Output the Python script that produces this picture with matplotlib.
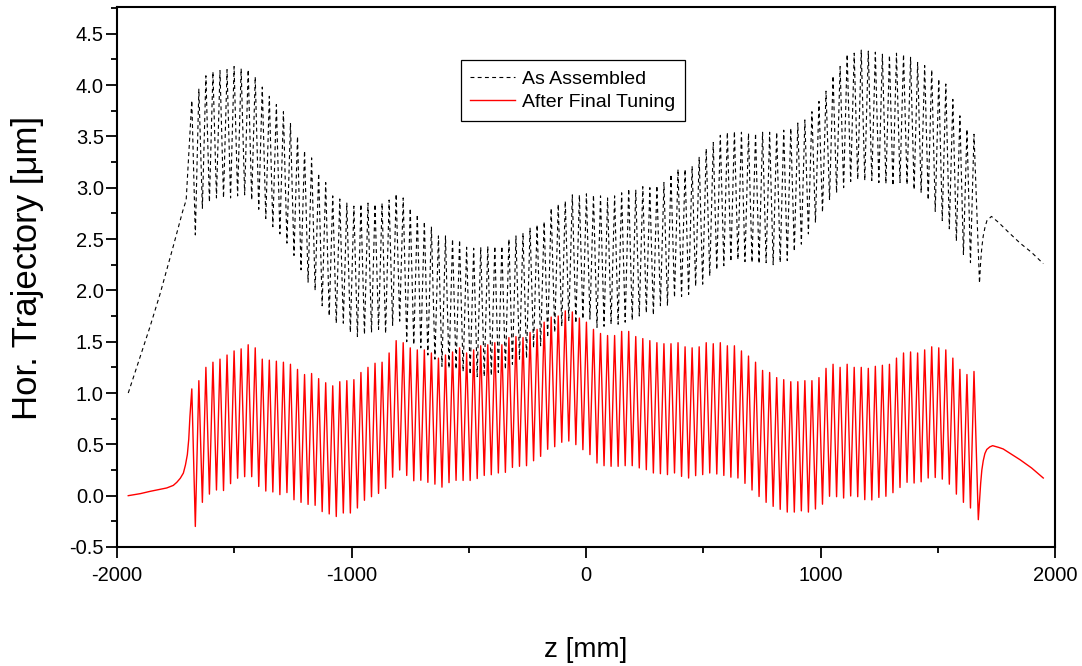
import numpy as np
import matplotlib
matplotlib.use("Agg")
import matplotlib.pyplot as plt
from matplotlib.ticker import MultipleLocator, FormatStrFormatter

plt.rcParams['font.family'] = ['Liberation Sans', 'DejaVu Sans']
plt.rcParams['axes.unicode_minus'] = False

# ---------------- data ----------------
# undulator oscillation: peak positions (mm) and period
first_peak_z = -1681.0
period_z = 30.05

# "After Final Tuning" (red): value at each peak and each trough
red_peaks = [1.04, 1.12, 1.25, 1.30, 1.33, 1.37, 1.41, 1.43, 1.47, 1.44, 1.33, 1.32, 1.31, 1.30, 1.28, 1.23, 1.18, 1.19, 1.14, 1.10, 1.07,
             1.11, 1.12, 1.13, 1.20, 1.25, 1.29, 1.30, 1.39, 1.51, 1.49, 1.44, 1.42, 1.42, 1.39, 1.34, 1.37, 1.40, 1.44, 1.39, 1.42, 1.46, 1.47,
             1.49, 1.47, 1.54, 1.55, 1.54, 1.59, 1.62, 1.69, 1.74, 1.75, 1.80, 1.79, 1.73, 1.69, 1.62, 1.58, 1.56, 1.56, 1.60, 1.60, 1.55, 1.53,
             1.51, 1.49, 1.48, 1.48, 1.49, 1.45, 1.44, 1.45, 1.49, 1.48, 1.49, 1.46, 1.46, 1.41, 1.36, 1.30, 1.22, 1.20, 1.15, 1.13, 1.11, 1.11,
             1.12, 1.12, 1.15, 1.24, 1.28, 1.25, 1.28, 1.25, 1.25, 1.24, 1.26, 1.27, 1.28, 1.34, 1.39, 1.40, 1.39, 1.42, 1.45, 1.44, 1.42, 1.34,
             1.23, 1.18, 1.21]
red_troughs = [-0.30, -0.065, 0.015, 0.055, 0.05, 0.117, 0.17, 0.185, 0.185, 0.09, 0.045, 0.036, 0.01, 0.03, -0.04, -0.065, -0.085, -0.094, -0.155, -0.178, -0.203,
               -0.169, -0.169, -0.12, -0.045, -0.01, 0.022, 0.07, 0.18, 0.25, 0.197, 0.145, 0.15, 0.13, 0.112, 0.083, 0.127, 0.149, 0.148, 0.148, 0.167, 0.197, 0.204,
               0.221, 0.227, 0.275, 0.286, 0.292, 0.34, 0.383, 0.452, 0.477, 0.52, 0.532, 0.497, 0.448, 0.40, 0.318, 0.292, 0.286, 0.286, 0.292, 0.292, 0.27, 0.253,
               0.221, 0.214, 0.205, 0.221, 0.188, 0.172, 0.195, 0.205, 0.221, 0.211, 0.197, 0.18, 0.172, 0.12, 0.055, -0.008, -0.065, -0.104, -0.133, -0.16, -0.16, -0.148,
               -0.16, -0.13, -0.083, -0.006, -0.01, -0.023, -0.003, -0.01, -0.039, -0.042, -0.017, -0.006, 0.029, 0.08, 0.13, 0.123, 0.135, 0.172, 0.177, 0.161, 0.112,
               0.015, -0.065, -0.12]
red_entry_z = [-1952, -1900, -1859, -1820, -1788, -1760, -1745, -1730, -1717, -1708, -1700, -1694, -1689]
red_entry_y = [0.0, 0.02, 0.042, 0.06, 0.075, 0.10, 0.13, 0.17, 0.22, 0.30, 0.40, 0.55, 0.77]
red_exit_z = [1673, 1678, 1683, 1688, 1694, 1701, 1709, 1722, 1734, 1760, 1779, 1851, 1900, 1950]
red_exit_y = [-0.234, -0.05, 0.12, 0.25, 0.34, 0.41, 0.45, 0.475, 0.487, 0.47, 0.455, 0.35, 0.27, 0.172]

# "As Assembled" (black dashed)
black_peaks = [3.85, 3.96, 4.09, 4.13, 4.14, 4.15, 4.18, 4.16, 4.15, 4.08, 3.98, 3.89, 3.81, 3.74, 3.63, 3.50, 3.36, 3.29, 3.14, 3.05, 2.92,
               2.89, 2.85, 2.82, 2.84, 2.85, 2.84, 2.85, 2.88, 2.94, 2.90, 2.80, 2.74, 2.67, 2.62, 2.53, 2.53, 2.50, 2.49, 2.42, 2.41, 2.42, 2.43,
               2.43, 2.43, 2.50, 2.53, 2.56, 2.61, 2.64, 2.67, 2.80, 2.84, 2.87, 2.93, 2.93, 2.94, 2.93, 2.92, 2.90, 2.92, 2.95, 2.99, 2.98, 3.01,
               3.00, 3.02, 3.05, 3.13, 3.18, 3.18, 3.21, 3.30, 3.38, 3.44, 3.51, 3.54, 3.55, 3.54, 3.53, 3.53, 3.54, 3.54, 3.54, 3.56, 3.58, 3.63,
               3.66, 3.74, 3.84, 3.94, 4.09, 4.18, 4.30, 4.31, 4.34, 4.33, 4.32, 4.30, 4.29, 4.31, 4.30, 4.27, 4.22, 4.19, 4.15, 4.06, 4.01, 3.86,
               3.70, 3.57, 3.52]
black_troughs = [2.54, 2.80, 2.86, 2.90, 2.90, 2.90, 2.92, 2.93, 2.88, 2.79, 2.70, 2.62, 2.55, 2.46, 2.34, 2.20, 2.08, 2.00, 1.85, 1.75, 1.68,
                 1.68, 1.59, 1.55, 1.57, 1.59, 1.62, 1.58, 1.66, 1.70, 1.50, 1.47, 1.44, 1.37, 1.33, 1.26, 1.24, 1.23, 1.21, 1.18, 1.16, 1.16, 1.17,
                 1.20, 1.23, 1.28, 1.33, 1.34, 1.44, 1.46, 1.54, 1.59, 1.65, 1.70, 1.68, 1.72, 1.72, 1.64, 1.65, 1.67, 1.67, 1.69, 1.71, 1.75, 1.78,
                 1.76, 1.85, 1.85, 1.93, 1.94, 1.96, 2.04, 2.06, 2.14, 2.20, 2.24, 2.28, 2.30, 2.28, 2.27, 2.26, 2.27, 2.25, 2.27, 2.29, 2.38, 2.45,
                 2.55, 2.66, 2.76, 2.88, 2.95, 3.00, 3.06, 3.08, 3.07, 3.07, 3.05, 3.04, 3.02, 3.05, 3.03, 2.98, 2.95, 2.88, 2.77, 2.68, 2.60, 2.48,
                 2.35, 2.27]
black_entry_z = [-1952, -1900, -1860, -1817, -1760, -1720, -1705]
black_entry_y = [1.00, 1.36, 1.64, 1.96, 2.43, 2.77, 2.88]
black_exit_z = [1678, 1683, 1688, 1694, 1702, 1710, 1729, 1760, 1800, 1851, 1900, 1950]
black_exit_y = [2.07, 2.28, 2.42, 2.53, 2.62, 2.68, 2.72, 2.66, 2.57, 2.46, 2.37, 2.26]

x_ticks = [-2000, -1000, 0, 1000, 2000]
series_labels = ["As Assembled", "After Final Tuning"]


def build(peaks, troughs, entry_z, entry_y, exit_z, exit_y):
    n = len(peaks)
    pz = first_peak_z + period_z * np.arange(n)
    tz = pz[:-1] + period_z / 2.0
    osc_z = np.empty(2 * n - 1)
    osc_y = np.empty(2 * n - 1)
    osc_z[0::2] = pz
    osc_z[1::2] = tz
    osc_y[0::2] = peaks
    osc_y[1::2] = troughs
    z = np.concatenate([entry_z, osc_z, exit_z])
    y = np.concatenate([entry_y, osc_y, exit_y])
    return z, y


zb, yb = build(black_peaks, black_troughs, black_entry_z, black_entry_y, black_exit_z, black_exit_y)
zr, yr = build(red_peaks, red_troughs, red_entry_z, red_entry_y, red_exit_z, red_exit_y)

# ---------------- figure ----------------
fig = plt.figure(figsize=(10.82, 6.66), dpi=100)
ax = fig.add_axes([117 / 1082, 1 - 547 / 666, 938 / 1082, 540 / 666])

ax.plot(zb, yb, color='black', lw=0.8, linestyle=(0, (3.5, 3.0)), label=series_labels[0])
ax.plot(zr, yr, color='#ff0000', lw=1.0, label=series_labels[1])

ax.set_xlim(-2000, 2000)
ax.set_ylim(-0.5, 4.76)
ax.set_xticks(x_ticks)
ax.xaxis.set_minor_locator(MultipleLocator(500))
ax.yaxis.set_major_locator(MultipleLocator(0.5))
ax.yaxis.set_minor_locator(MultipleLocator(0.25))
ax.yaxis.set_major_formatter(FormatStrFormatter('%.1f'))

for s in ax.spines.values():
    s.set_linewidth(1.5)
ax.tick_params(which='both', direction='out', top=False, right=False, width=1.3, labelsize=14.5)
ax.tick_params(which='major', length=8)
ax.tick_params(which='minor', length=4.5)
ax.tick_params(axis='y', which='major', pad=1.5)
ax.tick_params(axis='x', which='major', pad=6)

fig.text(0.025, 1 - 268 / 666, 'Hor. Trajectory [\u03bcm]', rotation=90, ha='center', va='center', fontsize=25)
fig.text(586 / 1082, 1 - 650 / 666, 'z [mm]', ha='center', va='center', fontsize=20)

leg = ax.legend(loc='center', bbox_to_anchor=(0.486, 0.845), fontsize=14, frameon=True, fancybox=False,
                edgecolor='black', framealpha=1, borderpad=0.5, labelspacing=0.3, handlelength=2.3,
                handletextpad=0.35)
leg.get_frame().set_linewidth(0.9)

fig.savefig('out.png', dpi=100)
